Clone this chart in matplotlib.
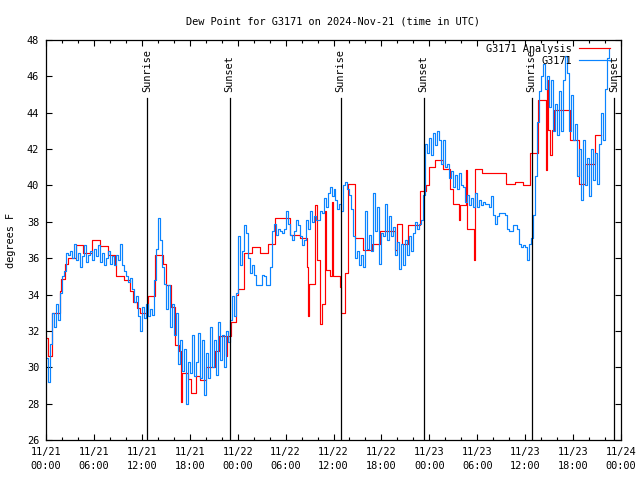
import numpy as np
import matplotlib
matplotlib.use("Agg")
import matplotlib.pyplot as plt
from matplotlib.ticker import MultipleLocator

FONT = "DejaVu Sans Mono"
plt.rcParams['font.family'] = [FONT]

title = "Dew Point for G3171 on 2024-Nov-21 (time in UTC)"
ylabel = "degrees F"

# Analysis series (hours since 11/21 00:00 UTC, degrees F) - step data
red_t = [0.0, 0.2, 0.75, 1.7, 1.85, 2.4, 2.7, 3.8, 4.6, 5.7, 6.8, 7.8, 8.6, 8.8,
         9.8, 10.5, 10.85, 11.35, 11.76, 12.8, 13.6, 14.7, 15.0, 15.7, 16.2, 16.7,
         16.85, 17.0, 17.8, 18.2, 18.8, 19.3, 20.0, 21.1, 21.6, 22.5, 22.7, 23.2,
         23.8, 24.1, 24.8, 25.8, 26.8, 27.8, 28.7, 30.5, 31.8, 32.7, 32.8, 32.95,
         33.7, 33.95, 34.3, 34.5, 34.9, 35.1, 35.5, 35.75, 35.9, 36.8, 37.0, 37.4,
         37.8, 38.7, 39.7, 40.8, 41.8, 43.7, 43.9, 44.6, 45.3, 46.8, 47.6, 48.0,
         48.7, 49.7, 50.6, 51.0, 51.7, 51.85, 52.6, 52.7, 53.55, 53.7, 54.6, 57.65,
         58.7, 59.7, 60.65, 61.6, 62.6, 62.7, 62.85, 63.1, 63.4, 63.6, 65.6, 66.8,
         67.5, 68.7, 69.5]
red_v = [31.6, 30.6, 33.0, 34.2, 34.85, 35.7, 36.0, 36.7, 36.3, 37.0, 36.65, 36.2, 35.6, 35.0,
         34.8, 34.2, 33.6, 33.25, 33.0, 33.9, 36.2, 35.7, 34.5, 33.3, 31.2, 30.9,
         28.1, 29.7, 29.35, 28.6, 29.5, 29.3, 30.0, 30.9, 31.7, 30.6, 31.7, 32.5,
         34.0, 34.3, 36.3, 36.6, 36.3, 36.8, 38.2, 37.3, 37.1, 35.5, 32.8, 34.6,
         38.9, 35.9, 32.4, 33.5, 38.6, 35.35, 35.0, 39.1, 35.0, 34.4, 33.0, 35.2,
         40.1, 37.1, 36.45, 36.8, 37.5, 36.45, 37.9, 36.8, 37.8, 39.7, 40.0, 41.0,
         41.4, 40.9, 39.8, 39.0, 38.1, 38.9, 40.85, 37.6, 35.9, 40.9, 40.7, 40.1,
         40.2, 40.0, 41.8, 44.7, 40.85, 45.8, 43.05, 41.7, 43.05, 44.15, 42.5, 40.1,
         41.2, 42.8, 42.8]

# Observed series, every 15 minutes from 11/21 00:00 UTC
obs_start = 0.0
obs_step = 0.25
blue_v = [
    30.5, 29.2, 31.3, 33.0,
    32.2, 33.5, 32.6, 34.1,
    35.0, 35.3, 36.3, 36.2,
    36.4, 36.0, 36.8, 35.9,
    36.3, 35.5, 36.1, 36.7,
    35.8, 36.2, 36.4, 35.9,
    36.5, 36.1, 36.7, 35.8,
    36.3, 35.6, 36.0, 36.4,
    35.7, 36.1, 35.6, 36.2,
    35.9, 36.8, 35.6, 35.3,
    35.0, 34.7, 34.9, 34.3,
    33.6, 33.9, 32.8, 32.0,
    33.3, 32.7, 33.5, 32.8,
    33.2, 32.9, 34.8, 36.5,
    38.2, 37.0, 35.5, 34.6,
    33.2, 34.5, 32.2, 33.5,
    31.8, 33.0, 30.2, 31.5,
    29.8, 31.0, 28.0, 30.3,
    29.7, 31.8, 29.5, 30.3,
    31.9, 29.4, 31.5, 28.5,
    30.8, 29.4, 32.2, 30.0,
    31.5, 29.6, 32.5, 30.4,
    31.8, 30.0, 32.0, 31.4,
    32.6, 33.9, 32.8, 34.1,
    37.2, 35.6, 36.4, 37.8,
    37.4, 36.0, 35.2, 35.6,
    35.1, 34.5, 34.5, 34.5,
    35.1, 35.0, 34.5, 34.5,
    35.5, 37.5, 37.9, 37.3,
    37.6, 37.5, 37.4, 37.6,
    38.6, 37.9, 37.3, 37.0,
    37.5, 38.1, 37.8, 37.2,
    36.7, 37.0, 38.1, 37.6,
    38.6, 38.0, 38.3, 38.1,
    38.1, 38.6, 38.5, 39.3,
    38.8, 39.6, 39.9, 39.4,
    39.8, 39.2, 38.7, 39.0,
    38.6, 40.0, 40.2, 39.8,
    39.5, 38.7, 37.2, 36.0,
    36.4, 35.6, 36.2, 35.5,
    38.6, 36.5, 37.3, 36.4,
    39.6, 37.5, 38.8, 35.7,
    37.4, 37.2, 39.0, 37.0,
    38.3, 37.2, 37.7, 36.2,
    36.9, 35.4, 36.8, 35.6,
    37.0, 36.2, 37.2, 36.4,
    37.4, 38.0, 37.6, 37.9,
    38.1, 39.5, 42.3, 41.8,
    42.6, 41.7, 42.9, 42.2,
    43.0, 42.5, 41.2, 42.5,
    41.0, 41.2, 40.4, 40.8,
    39.9, 40.6, 39.8, 40.7,
    40.0, 39.9, 39.1, 39.5,
    38.9, 39.3, 38.8, 39.6,
    38.8, 39.2, 38.9, 39.1,
    39.0, 39.0, 38.8, 39.4,
    38.4, 37.9, 38.3, 38.5,
    38.5, 38.5, 38.4, 37.6,
    37.5, 37.5, 37.8, 37.8,
    37.6, 36.8, 36.6, 36.7,
    36.6, 35.9, 36.8, 37.1,
    38.4, 40.5, 43.5, 45.2,
    46.0, 46.7, 45.3, 46.0,
    44.3, 45.8, 43.0, 44.5,
    42.8, 45.2, 43.0, 45.8,
    47.1, 46.2, 43.0, 45.0,
    42.5, 43.4, 40.5, 42.0,
    39.2, 42.5, 40.0, 41.5,
    39.4, 42.0, 40.3, 41.8,
    40.1, 42.3, 44.0, 42.5,
    45.3, 47.0, 47.5,
]
blue_t = obs_start + obs_step * np.arange(len(blue_v))

# Sun events (hours since 11/21 00:00 UTC)
sun_t = [12.65, 23.0, 36.9, 47.3, 60.8, 71.1]
sun_lbl = ["Sunrise", "Sunset", "Sunrise", "Sunset", "Sunrise", "Sunset"]
sun_line_top = 44.8
sun_text_y = 45.15

series_names = ["G3171 Analysis", "G3171"]
series_colors = ["#ff0000", "#0a84ff"]

xtick_hours = list(range(0, 73, 6))
xtick_labels = ["11/21\n00:00", "11/21\n06:00", "11/21\n12:00", "11/21\n18:00",
                "11/22\n00:00", "11/22\n06:00", "11/22\n12:00", "11/22\n18:00",
                "11/23\n00:00", "11/23\n06:00", "11/23\n12:00", "11/23\n18:00",
                "11/24\n00:00"]
yticks = list(range(26, 49, 2))

fig = plt.figure(figsize=(6.4, 4.8), dpi=100)
ax = fig.add_axes([46/640, 40/480, 575/640, 400/480])

ax.plot(red_t, red_v, drawstyle='steps-post', color=series_colors[0], lw=0.85,
        label=series_names[0])
ax.plot(blue_t, blue_v, drawstyle='steps-post', color=series_colors[1], lw=0.85,
        label=series_names[1])

for t, lbl in zip(sun_t, sun_lbl):
    ax.plot([t, t], [26, sun_line_top], color='black', lw=0.9)
    ax.text(t, sun_text_y, lbl, rotation=90, ha='center', va='bottom',
            fontsize=7.4, family=FONT)

ax.set_xlim(0, 72)
ax.set_ylim(26, 48)
ax.set_xticks(xtick_hours)
ax.set_xticklabels(xtick_labels, fontsize=7.4, linespacing=1.45)
ax.xaxis.set_minor_locator(MultipleLocator(2))
ax.set_yticks(yticks)
ax.set_yticklabels([str(v) for v in yticks], fontsize=7.4)
ax.tick_params(axis='both', which='both', direction='in', top=True, right=True,
               width=0.8, color='black')
ax.tick_params(axis='both', which='major', length=4.0, pad=5)
ax.tick_params(axis='both', which='minor', length=2.5)
for s in ax.spines.values():
    s.set_linewidth(0.9)

ax.set_title(title, fontsize=7.4, pad=11)
ax.set_ylabel(ylabel, fontsize=7.4, labelpad=8)

leg = ax.legend(loc='upper right', bbox_to_anchor=(1 - 11/575, 1 - 4/400),
                frameon=False, markerfirst=False, fontsize=7.4,
                handlelength=3.0, handletextpad=0.7, labelspacing=0.2,
                borderaxespad=0, borderpad=0)

fig.savefig("out.png", dpi=100)
